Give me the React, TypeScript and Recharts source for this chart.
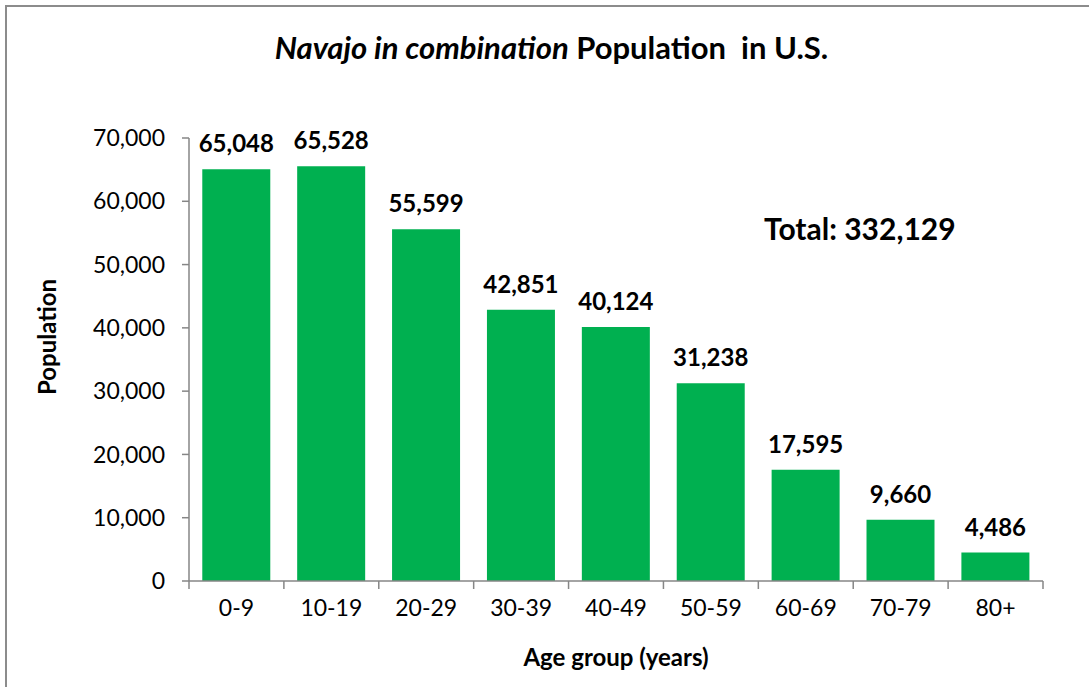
import React from "react";
import { BarChart, Bar, XAxis, YAxis, LabelList } from "recharts";

const categories = ["0-9", "10-19", "20-29", "30-39", "40-49", "50-59", "60-69", "70-79", "80+"];
const population = [65048, 65528, 55599, 42851, 40124, 31238, 17595, 9660, 4486];
const yTicks = [0, 10000, 20000, 30000, 40000, 50000, 60000, 70000];
const totalLabel = "Total: 332,129";

const data = categories.map((c, i) => ({ group: c, value: population[i] }));

const W = 1089;
const H = 687;
const FONT = "Lato, 'Open Sans', sans-serif";
const AXIS_COLOR = "#868686";
const MARGIN = { top: 138, right: 46, bottom: 56, left: 80 };
const Y_W = 109;
const PLOT_W = W - MARGIN.left - Y_W - MARGIN.right;
const BAND = PLOT_W / categories.length;

const fmt = (v: number) => v.toLocaleString("en-US");

const XTick = (props: any) => {
  const { x, y, payload, index } = props;
  const left = x - BAND / 2;
  const right = x + BAND / 2;
  return (
    <g>
      <line x1={left} y1={y} x2={left} y2={y + 8} stroke={AXIS_COLOR} strokeWidth={1.5} />
      {index === categories.length - 1 && (
        <line x1={right} y1={y} x2={right} y2={y + 8} stroke={AXIS_COLOR} strokeWidth={1.5} />
      )}
      <text x={x} y={y + 26} textAnchor="middle" dominantBaseline="central" fontFamily={FONT} fontSize={23} fill="#000">
        {payload.value}
      </text>
    </g>
  );
};

export default function App() {
  return (
    <div style={{ position: "absolute", left: 0, top: 0, width: W, height: H, overflow: "hidden", background: "#fff", fontFamily: FONT }}>
      <div style={{ position: "absolute", left: 5, top: 5, width: 1200, height: 800, border: "2px solid #8c8c8c" }} />
      <BarChart width={W} height={H} data={data} margin={MARGIN} barCategoryGap="14%">
        <XAxis
          dataKey="group"
          tick={<XTick />}
          tickLine={false}
          tickSize={0}
          tickMargin={0}
          height={50}
          axisLine={{ stroke: AXIS_COLOR, strokeWidth: 1.5 }}
          interval={0}
        />
        <YAxis
          width={Y_W}
          domain={[0, 70000]}
          ticks={yTicks}
          tickFormatter={fmt}
          tickSize={7}
          tickMargin={17}
          axisLine={{ stroke: AXIS_COLOR, strokeWidth: 1.5 }}
          tickLine={{ stroke: AXIS_COLOR, strokeWidth: 1.5 }}
          tick={{ fontFamily: FONT, fontSize: 23, fill: "#000" }}
          interval={0}
        />
        <Bar dataKey="value" fill="#00B050" isAnimationActive={false}>
          <LabelList
            dataKey="value"
            position="top"
            offset={17}
            formatter={(v: any) => fmt(Number(v))}
            style={{ fontFamily: FONT, fontSize: 24, fontWeight: 700, fill: "#000" }}
          />
        </Bar>
      </BarChart>
      <div style={{ position: "absolute", left: 0, width: 1103, top: 28, textAlign: "center", fontSize: 31, fontWeight: 700, color: "#000", lineHeight: "38px", whiteSpace: "nowrap" }}>
        <i>Navajo in combination</i> Population&nbsp; in U.S.
      </div>
      <div style={{ position: "absolute", left: 764, top: 209, fontSize: 30, fontWeight: 700, color: "#000", lineHeight: "38px", whiteSpace: "nowrap" }}>
        {totalLabel}
      </div>
      <div style={{ position: "absolute", left: 416, width: 400, top: 642, textAlign: "center", fontSize: 24, fontWeight: 700, color: "#000", lineHeight: "30px" }}>
        Age group (years)
      </div>
      <div style={{ position: "absolute", left: 47 - 100, top: 337 - 15, width: 200, textAlign: "center", fontSize: 24, fontWeight: 700, color: "#000", lineHeight: "30px", transform: "rotate(-90deg)" }}>
        Population
      </div>
    </div>
  );
}
